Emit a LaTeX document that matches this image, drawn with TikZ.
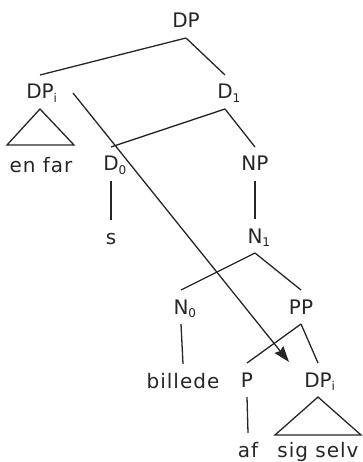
\documentclass[tikz,border=0pt]{standalone}
\usepackage{fontspec}
\setmainfont{DejaVu Sans}
\usetikzlibrary{arrows.meta}
\newcommand{\idx}[1]{\rlap{\raisebox{-3.5pt}{\fontsize{12}{12}\selectfont #1}}}
\newcommand{\wrd}[1]{{\addfontfeature{LetterSpace=5}#1}}
\begin{document}
\begin{tikzpicture}[x=1pt,y=-1pt,>={Stealth[length=16pt,width=11pt,inset=2pt]},
    line width=1.3pt,color=black!85,
    lbl/.style={font=\fontsize{20}{24}\selectfont,text height=14pt,text depth=0pt,
      inner sep=0pt,outer ysep=10pt}]
	  \useasboundingbox (0,0) rectangle (362,462);
	  \node[lbl] (dp) at (186,21) {DP};
	  \node[lbl] (dpi) at (40,92) {DP\idx{i}};
	  \node[lbl] (d1) at (225,92) {D\idx{1}};
	  \node[lbl] (enfar) at (41,166) {\wrd{en far}};
	  \node[lbl] (d0) at (111,164) {D\idx{0}};
	  \node[lbl] (np) at (255,164) {NP};
	  \node[lbl] (s) at (111,237) {\wrd{s}};
	  \node[lbl] (n1) at (255,236) {N\idx{1}};
	  \node[lbl] (n0) at (181,307) {N\idx{0}};
	  \node[lbl] (pp) at (301,307) {PP};
	  \node[lbl] (billede) at (183,381) {\wrd{billede}};
	  \node[lbl] (p) at (247,380) {P};
	  \node[lbl] (dpj) at (318,380) {DP\idx{i}};
	  \node[lbl] (af) at (248,450) {\wrd{af}};
	  \node[lbl] (sigselv) at (318,450) {\wrd{sig selv}};
	  \coordinate (mvstart) at (73,93);
	  \coordinate (mvend) at (289,362);
	  \draw (dp.south) -- (dpi.north);
	  \draw (dp.south) -- (d1.north);
	  \draw (dpi.south) -- ++(-33,36) -- ++(67,0) -- cycle;
	  \draw (d1.south) -- (d0.north);
	  \draw (d1.south) -- (np.north);
	  \draw (d0.south) -- (s.north);
	  \draw (np.south) -- (n1.north);
	  \draw (n1.south) -- (n0.north);
	  \draw (n1.south) -- (pp.north);
	  \draw (n0.south) -- (billede.north);
	  \draw (pp.south) -- (p.north);
	  \draw (pp.south) -- (dpj.north);
	  \draw (p.south) -- (af.north);
	  \draw (dpj.south) -- ++(-43,38) -- ++(86,0) -- cycle;
	  \draw[->] (mvstart) -- (mvend);
	\end{tikzpicture}
\end{document}
